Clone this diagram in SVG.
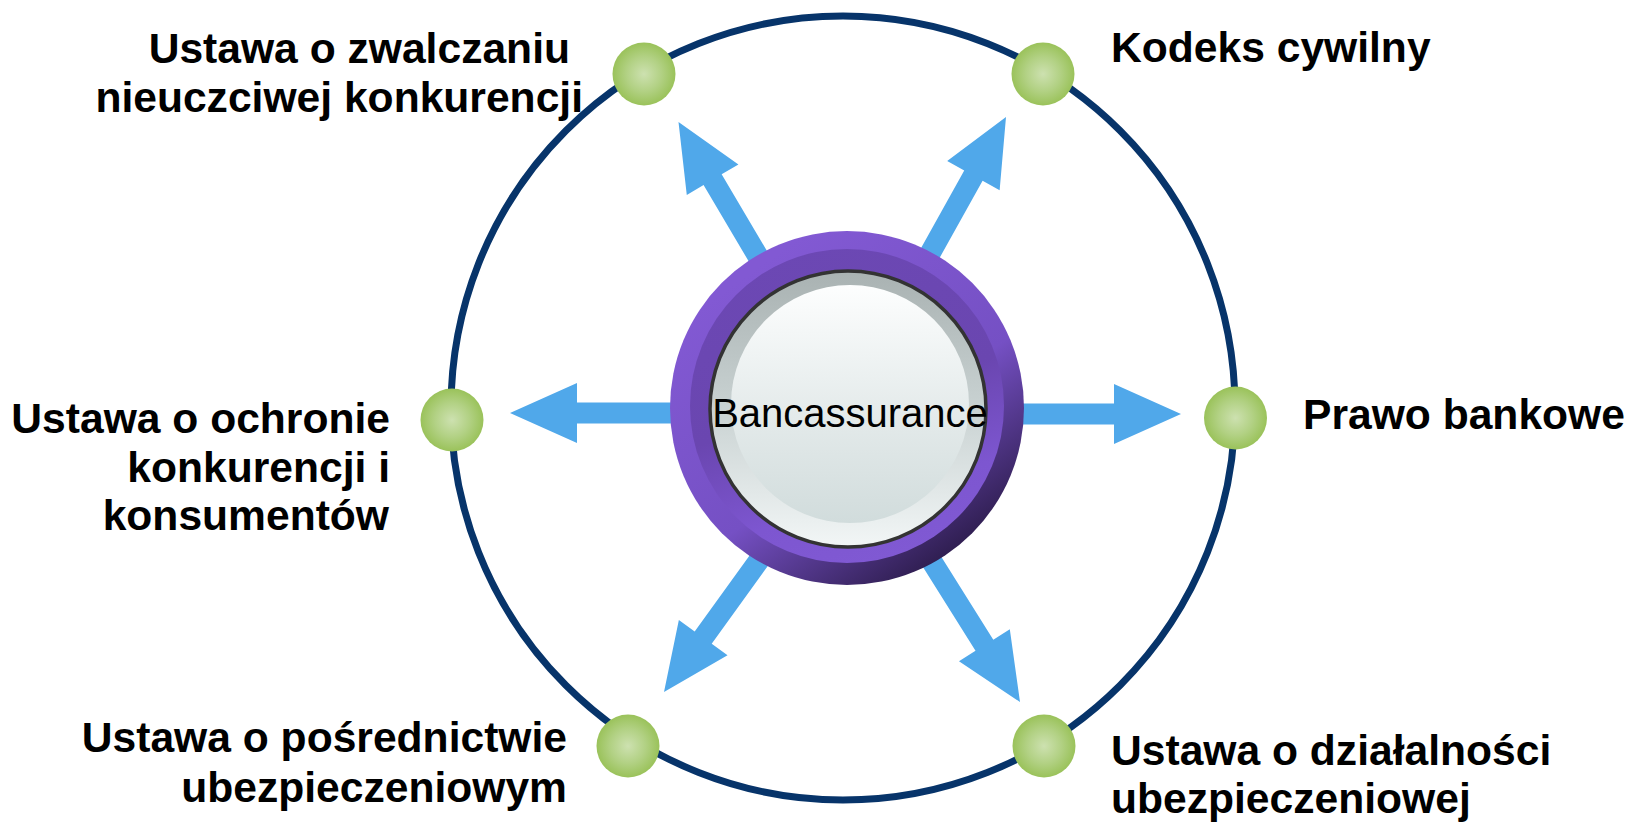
<svg xmlns="http://www.w3.org/2000/svg" xmlns:xlink="http://www.w3.org/1999/xlink" width="1627" height="824" viewBox="0 0 1627 824">
<style>
.lbl{font-family:"Liberation Sans",Arial,sans-serif;font-weight:bold;font-size:42.6px;fill:#000}
.ctr{font-family:"Liberation Sans",Arial,sans-serif;font-size:40px;fill:#000}
.arrow{fill:#50A8EA}
.dot{fill:url(#gDot)}
</style>
<defs>
<radialGradient id="gDot" cx="0.5" cy="0.5" r="0.5">
<stop offset="0" stop-color="#CDE1B0"/>
<stop offset="0.55" stop-color="#B2D184"/>
<stop offset="1" stop-color="#9AC25A"/>
</radialGradient>
<linearGradient id="gOuter" x1="0.25" y1="0.1" x2="0.85" y2="0.95">
<stop offset="0" stop-color="#8259D3"/>
<stop offset="0.55" stop-color="#7550C4"/>
<stop offset="1" stop-color="#24163E"/>
</linearGradient>
<linearGradient id="gMid" x1="0.3" y1="0" x2="0.6" y2="1">
<stop offset="0" stop-color="#6C48B4"/>
<stop offset="0.5" stop-color="#6A46B0"/>
<stop offset="0.8" stop-color="#7D56D0"/>
<stop offset="1" stop-color="#8059D3"/>
</linearGradient>
<linearGradient id="gRim" x1="0" y1="0" x2="0" y2="1">
<stop offset="0" stop-color="#A9B2B2"/>
<stop offset="0.5" stop-color="#C9D2D2"/>
<stop offset="1" stop-color="#F2F6F6"/>
</linearGradient>
<linearGradient id="gFace" x1="0" y1="0" x2="0" y2="1">
<stop offset="0" stop-color="#FDFEFE"/>
<stop offset="0.5" stop-color="#E6ECEC"/>
<stop offset="1" stop-color="#D1DCDC"/>
</linearGradient>
<polygon id="arr" points="0,0 -67,-30 -67,-10.5 -300,-10.5 -300,10.5 -67,10.5 -67,30"/>
</defs>
<rect width="1627" height="824" fill="#fff"/>
<g id="ring">
<circle cx="843" cy="408" r="392" fill="none" stroke="#07346A" stroke-width="7"/>
</g>
<g id="connectors">
<use xlink:href="#arr" class="arrow" transform="translate(1181,414)"/>
<use xlink:href="#arr" class="arrow" transform="translate(510,413) rotate(180)"/>
<use xlink:href="#arr" class="arrow" transform="translate(678.5,122) rotate(-120.6)"/>
<use xlink:href="#arr" class="arrow" transform="translate(1006,117) rotate(-60.9)"/>
<use xlink:href="#arr" class="arrow" transform="translate(664,692) rotate(125.8)"/>
<use xlink:href="#arr" class="arrow" transform="translate(1020,702) rotate(57.9)"/>
</g>
<g id="center">
<circle cx="847" cy="408" r="177" fill="url(#gOuter)"/>
<circle cx="847" cy="406" r="157" fill="url(#gMid)"/>
<circle cx="848" cy="409" r="138" fill="url(#gRim)" stroke="#333" stroke-width="3.5"/>
<circle cx="850" cy="404" r="119" fill="url(#gFace)"/>
<text class="ctr" x="850" y="427" text-anchor="middle">Bancassurance</text>
</g>
<g id="n-topleft">
<circle class="dot" cx="644" cy="74" r="31.5"/>
<text class="lbl" text-anchor="end"><tspan x="570" y="63">Ustawa o zwalczaniu</tspan><tspan x="583" y="112">nieuczciwej konkurencji</tspan></text>
</g>
<g id="n-topright">
<circle class="dot" cx="1043" cy="74" r="31.5"/>
<text class="lbl" x="1111" y="62">Kodeks cywilny</text>
</g>
<g id="n-left">
<circle class="dot" cx="452" cy="420" r="31.5"/>
<text class="lbl" text-anchor="end"><tspan x="390" y="433">Ustawa o ochronie</tspan><tspan x="390" y="482">konkurencji i</tspan><tspan x="389" y="530">konsumentów</tspan></text>
</g>
<g id="n-right">
<circle class="dot" cx="1235.5" cy="418" r="31.5"/>
<text class="lbl" x="1303" y="429">Prawo bankowe</text>
</g>
<g id="n-bottomleft">
<circle class="dot" cx="628" cy="746" r="31.5"/>
<text class="lbl" text-anchor="end"><tspan x="567" y="752">Ustawa o pośrednictwie</tspan><tspan x="567" y="802">ubezpieczeniowym</tspan></text>
</g>
<g id="n-bottomright">
<circle class="dot" cx="1044" cy="746" r="31.5"/>
<text class="lbl"><tspan x="1111" y="765">Ustawa o działalności</tspan><tspan x="1111" y="813">ubezpieczeniowej</tspan></text>
</g>
</svg>
